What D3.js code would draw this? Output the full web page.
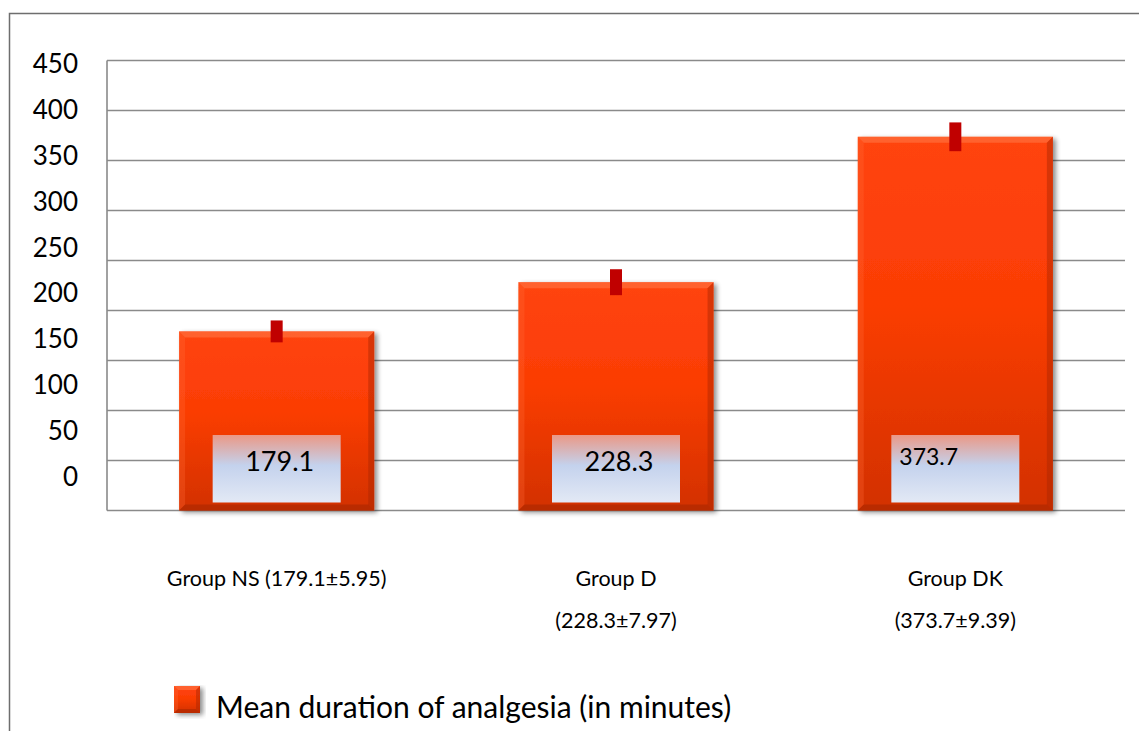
<!DOCTYPE html>
<html>
<head>
<meta charset="utf-8">
<script src="https://cdn.jsdelivr.net/npm/d3@7"></script>
<style>
  html, body { margin: 0; padding: 0; background: #fff; }
  svg { display: block; }
  text { font-family: Lato, "Open Sans", sans-serif; fill: #000; }
</style>
</head>
<body>
<svg id="chart" width="1139" height="731"></svg>
<script>
// ---- data ----
const categories = ["Group NS", "Group D", "Group DK"];
const categoryLines = [["Group NS (179.1±5.95)"], ["Group D", "(228.3±7.97)"], ["Group DK", "(373.7±9.39)"]];
const means = [179.1, 228.3, 373.7];
const errors = [5.95, 7.97, 9.39];
const valueLabels = ["179.1", "228.3", "373.7"];
const yTickValues = [0, 50, 100, 150, 200, 250, 300, 350, 400, 450];
const seriesName = "Mean duration of analgesia (in minutes)";

const svg = d3.select("#chart");
const W = 1139, H = 731;

const plotLeft = 107, plotRight = 1125, plotTop = 60.5, plotBottom = 510.5;

const x = d3.scaleBand().domain(categories).range([plotLeft, plotRight])
  .paddingInner(0.425).paddingOuter(0.2125);
const y = d3.scaleLinear().domain([0, 450]).range([plotBottom, plotTop]);
// tick labels in the original are laid out on their own (compressed) track
const yLabel = d3.scaleLinear().domain([0, 450]).range([486, 73]);

// ---- defs ----
const defs = svg.append("defs");
const barGrad = defs.append("linearGradient").attr("id", "barGrad")
  .attr("x1", 0).attr("y1", 0).attr("x2", 0).attr("y2", 1);
barGrad.append("stop").attr("offset", "0%").attr("stop-color", "#ff440c");
barGrad.append("stop").attr("offset", "45%").attr("stop-color", "#fb3d05");
barGrad.append("stop").attr("offset", "100%").attr("stop-color", "#d23102");

const boxGrad = defs.append("linearGradient").attr("id", "boxGrad")
  .attr("x1", 0).attr("y1", 0).attr("x2", 0).attr("y2", 1);
boxGrad.append("stop").attr("offset", "0%").attr("stop-color", "#ea9886");
boxGrad.append("stop").attr("offset", "45%").attr("stop-color", "#c4d2ed");
boxGrad.append("stop").attr("offset", "100%").attr("stop-color", "#e3e9f5");

const shadow = defs.append("filter").attr("id", "shadow")
  .attr("x", "-10%").attr("y", "-10%").attr("width", "130%").attr("height", "130%");
shadow.append("feGaussianBlur").attr("in", "SourceAlpha").attr("stdDeviation", 2.5).attr("result", "b");
shadow.append("feOffset").attr("in", "b").attr("dx", 3).attr("dy", 2).attr("result", "o");
shadow.append("feComponentTransfer").attr("in", "o").attr("result", "s")
  .append("feFuncA").attr("type", "linear").attr("slope", 0.45);
const merge = shadow.append("feMerge");
merge.append("feMergeNode").attr("in", "s");
merge.append("feMergeNode").attr("in", "SourceGraphic");

// ---- outer frame ----
svg.append("path")
  .attr("d", `M9.5,${H} L9.5,13.5 L${W},13.5`)
  .attr("fill", "none").attr("stroke", "#6e6e6e").attr("stroke-width", 1.5);

// ---- gridlines ----
svg.append("g").selectAll("line").data(yTickValues).join("line")
  .attr("x1", plotLeft).attr("x2", plotRight)
  .attr("y1", d => y(d)).attr("y2", d => y(d))
  .attr("stroke", "#8a8a8a").attr("stroke-width", 1.6);
svg.append("line")
  .attr("x1", plotLeft).attr("x2", plotLeft)
  .attr("y1", y(450)).attr("y2", y(0))
  .attr("stroke", "#8a8a8a").attr("stroke-width", 1.6);

// ---- y tick labels ----
svg.append("g").selectAll("text").data(yTickValues).join("text")
  .attr("x", 78).attr("y", d => yLabel(d))
  .attr("text-anchor", "end")
  .attr("font-size", 26)
  .text(d => d);

// ---- bars ----
function bevelBar(g, x0, y0, w, h, b) {
  const x1 = x0 + w, y1 = y0 + h;
  g.append("rect").attr("x", x0).attr("y", y0).attr("width", w).attr("height", h)
    .attr("fill", "url(#barGrad)").attr("filter", "url(#shadow)");
  g.append("polygon").attr("points", `${x0},${y0} ${x1},${y0} ${x1-b},${y0+b} ${x0+b},${y0+b}`)
    .attr("fill", "#ff7a4a").attr("opacity", 0.55);
  g.append("polygon").attr("points", `${x0},${y0} ${x0+b},${y0+b} ${x0+b},${y1-b} ${x0},${y1}`)
    .attr("fill", "#ff6a35").attr("opacity", 0.3);
  g.append("polygon").attr("points", `${x1},${y0} ${x1},${y1} ${x1-b},${y1-b} ${x1-b},${y0+b}`)
    .attr("fill", "#a82500").attr("opacity", 0.45);
  g.append("polygon").attr("points", `${x0},${y1} ${x1},${y1} ${x1-b},${y1-b} ${x0+b},${y1-b}`)
    .attr("fill", "#a02400").attr("opacity", 0.5);
}

const barsG = svg.append("g");
categories.forEach((c, i) => {
  const g = barsG.append("g");
  bevelBar(g, x(c), y(means[i]), x.bandwidth(), y(0) - y(means[i]), 6);
});

// ---- value label boxes ----
const boxW = 128;
const labelsG = svg.append("g");
categories.forEach((c, i) => {
  const cx = x(c) + x.bandwidth() / 2;
  labelsG.append("rect")
    .attr("x", cx - boxW / 2).attr("y", y(75.5)).attr("width", boxW).attr("height", y(8) - y(75.5))
    .attr("fill", "url(#boxGrad)");
  if (i < 2) {
    labelsG.append("text").attr("x", cx + 3).attr("y", y(39.5))
      .attr("text-anchor", "middle").attr("font-size", 27).text(valueLabels[i]);
  } else {
    labelsG.append("text").attr("x", cx - 56).attr("y", y(45.5))
      .attr("text-anchor", "start").attr("font-size", 23).text(valueLabels[i]);
  }
});

// ---- error bars ----
const errG = svg.append("g");
categories.forEach((c, i) => {
  const cx = x(c) + x.bandwidth() / 2;
  const top = y(means[i] + errors[i]) - 5, bot = y(means[i] - errors[i]) + 5;
  errG.append("rect").attr("x", cx - 6).attr("y", top).attr("width", 12).attr("height", bot - top)
    .attr("fill", "#c00000");
});

// ---- category labels ----
const catG = svg.append("g");
categories.forEach((c, i) => {
  const cx = x(c) + x.bandwidth() / 2;
  categoryLines[i].forEach((line, j) => {
    catG.append("text").attr("x", cx).attr("y", 586 + j * 42)
      .attr("text-anchor", "middle").attr("font-size", 21.5).text(line);
  });
});

// ---- legend ----
const lg = svg.append("g");
bevelBar(lg, 174, 686, 26, 27, 4);
lg.append("text").attr("x", 216).attr("y", 718).attr("font-size", 30).text(seriesName);
</script>
</body>
</html>
